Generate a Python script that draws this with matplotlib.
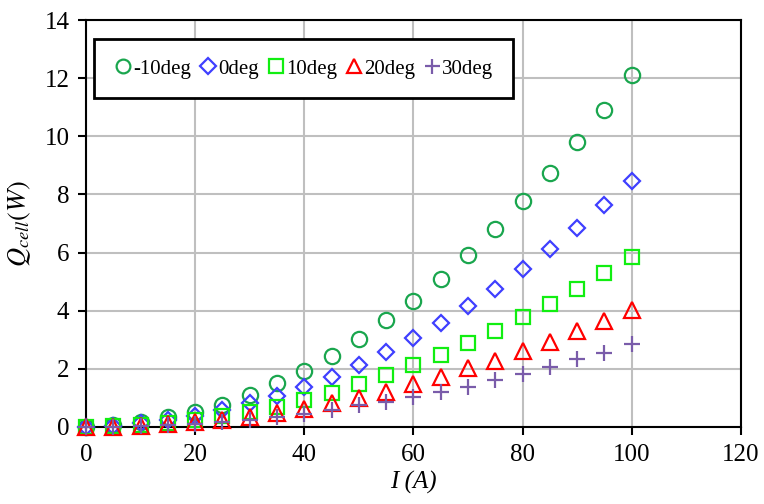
import matplotlib
matplotlib.use("Agg")
import matplotlib.pyplot as plt

plt.rcParams['font.family'] = ['Liberation Serif', 'DejaVu Serif']
plt.rcParams['mathtext.fontset'] = 'stix'

current = [0, 5, 10, 15, 20, 25, 30, 35, 40, 45, 50, 55, 60, 65, 70, 75, 80, 85, 90, 95, 100]

q_m10 = [0, 0.06, 0.18, 0.33, 0.5, 0.76, 1.1, 1.5, 1.92, 2.44, 3.01, 3.67, 4.35,
         5.1, 5.93, 6.82, 7.77, 8.73, 9.82, 10.92, 12.12]
q_0 = [0, 0.04, 0.12, 0.23, 0.36, 0.58, 0.82, 1.07, 1.39, 1.73, 2.13, 2.58, 3.07,
       3.56, 4.16, 4.76, 5.42, 6.13, 6.85, 7.63, 8.45]
q_10 = [0, 0.02, 0.07, 0.14, 0.25, 0.37, 0.5, 0.7, 0.93, 1.18, 1.47, 1.78, 2.13,
        2.47, 2.88, 3.29, 3.78, 4.24, 4.74, 5.28, 5.86]
q_20 = [0, 0.01, 0.04, 0.09, 0.16, 0.25, 0.35, 0.49, 0.63, 0.81, 1.01, 1.2, 1.47,
        1.72, 2.01, 2.27, 2.6, 2.92, 3.29, 3.64, 4.04]
q_30 = [0, 0.01, 0.02, 0.05, 0.1, 0.17, 0.25, 0.34, 0.44, 0.58, 0.75, 0.87, 1.02,
        1.2, 1.37, 1.6, 1.83, 2.07, 2.33, 2.56, 2.84]

labels = ['-10deg', '0deg', '10deg', '20deg', '30deg']

fig = plt.figure(figsize=(7.64, 5.04), dpi=100)
ax = fig.add_axes([0.1126, 0.153, 0.857, 0.807])

kw = dict(linestyle='none', clip_on=False, zorder=3)
ax.plot(current, q_m10, marker='o', ms=11, mfc='none', mec='#1AA64E', mew=1.6, label=labels[0], **kw)
ax.plot(current, q_0, marker='D', ms=8.5, mfc='none', mec='#3F3FFF', mew=1.6, label=labels[1], **kw)
ax.plot(current, q_10, marker='s', ms=10.5, mfc='none', mec='#11EE11', mew=1.6, label=labels[2], **kw)
ax.plot(current, q_20, marker='^', ms=11.5, mfc='none', mec='#FF0000', mew=1.6, label=labels[3], **kw)
ax.plot(current, q_30, marker='+', ms=12, mec='#7A5CAA', mew=1.6, label=labels[4], **kw)

ax.set_xlim(0, 120)
ax.set_ylim(0, 14)
ax.set_xticks(range(0, 121, 20))
ax.set_yticks(range(0, 15, 2))
ax.grid(True, color='#BFBFBF', linewidth=1.5)
ax.set_axisbelow(True)
for s in ax.spines.values():
    s.set_linewidth(1.5)
ax.tick_params(direction='out', length=6, width=1.5, labelsize=18, pad=6)

ax.set_xlabel('I (A)', fontsize=18, style='italic', labelpad=4)
ax.set_ylabel(r'$Q_{cell}(W)$', fontsize=19, labelpad=8)

leg = ax.legend(loc='upper left', bbox_to_anchor=(0.012, 0.953), ncol=5, fontsize=15,
                frameon=True, fancybox=False, edgecolor='black', borderpad=0.95,
                handletextpad=0.05, columnspacing=0.35, handlelength=0.9,
                markerscale=0.9, borderaxespad=0)
leg.get_frame().set_linewidth(2)
leg.get_frame().set_alpha(1)
leg.set_zorder(5)

fig.savefig('out.png', dpi=100)
